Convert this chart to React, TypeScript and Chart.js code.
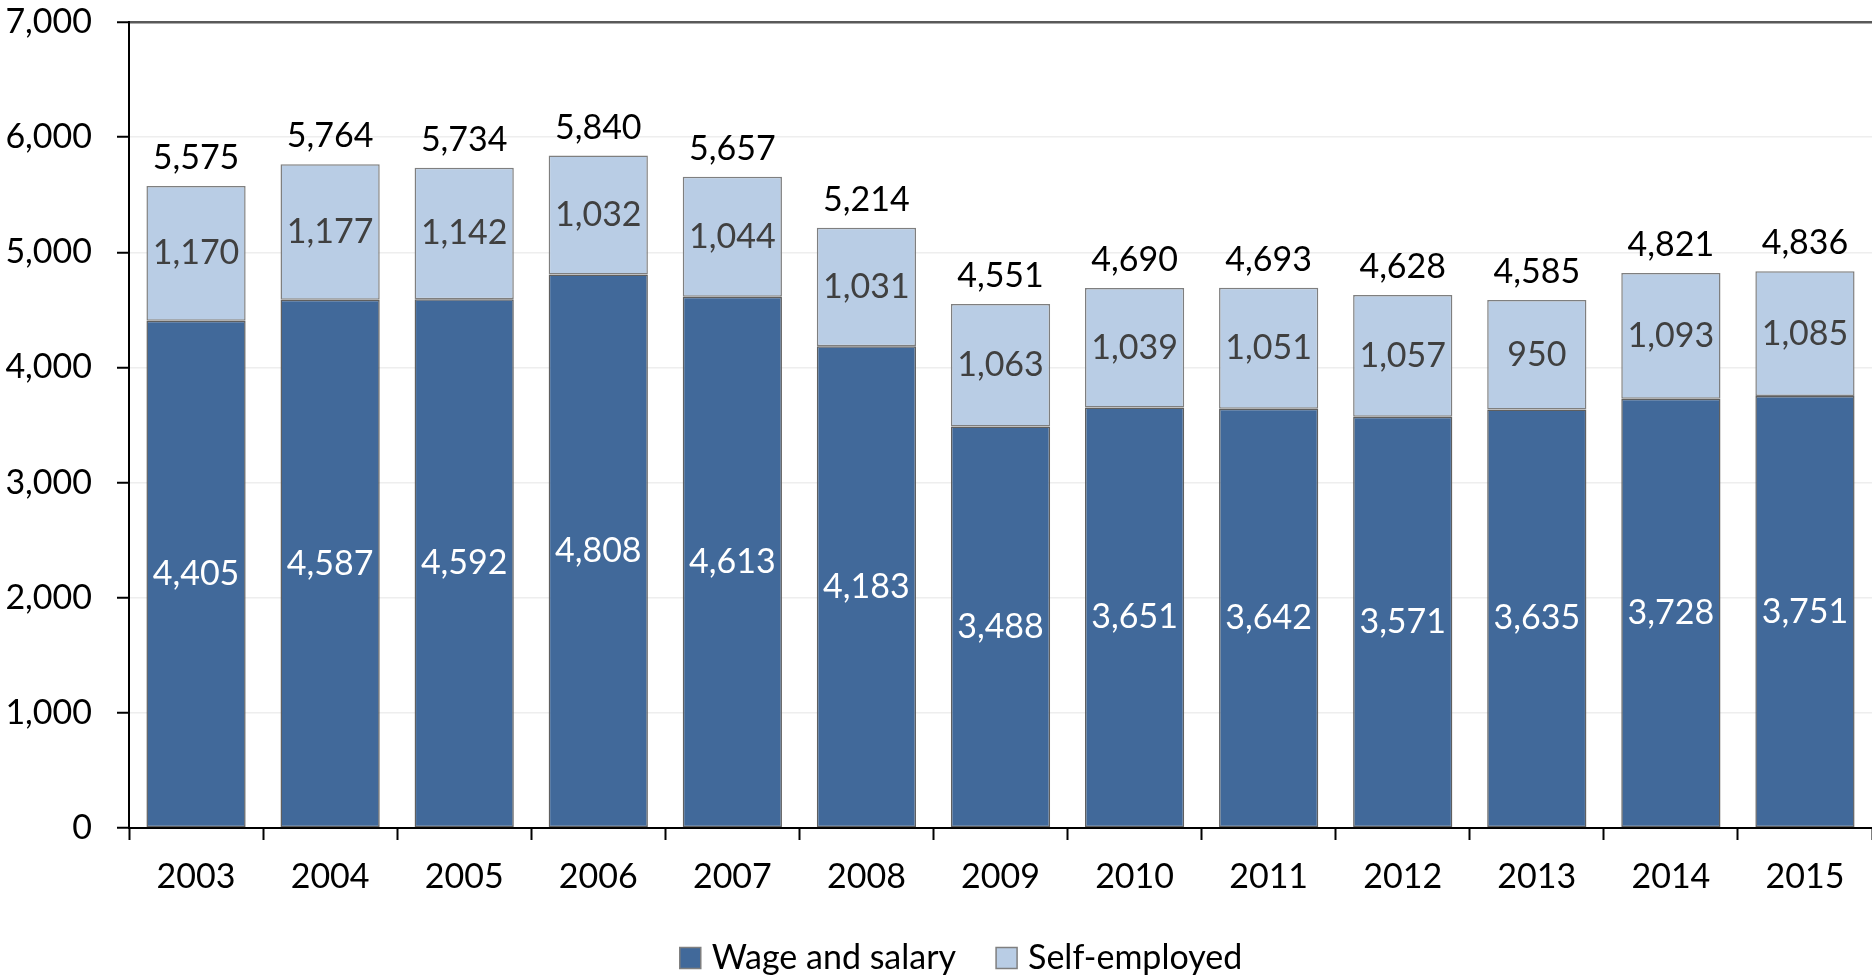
import React, { useEffect, useRef } from 'react';
import { Chart, registerables } from 'chart.js';

Chart.register(...registerables);

const years = ['2003', '2004', '2005', '2006', '2007', '2008', '2009', '2010', '2011', '2012', '2013', '2014', '2015'];
const wageAndSalary = [4405, 4587, 4592, 4808, 4613, 4183, 3488, 3651, 3642, 3571, 3635, 3728, 3751];
const selfEmployed = [1170, 1177, 1142, 1032, 1044, 1031, 1063, 1039, 1051, 1057, 950, 1093, 1085];
const totals = [5575, 5764, 5734, 5840, 5657, 5214, 4551, 4690, 4693, 4628, 4585, 4821, 4836];
const seriesNames = ['Wage and salary', 'Self-employed'];
const yMin = 0;
const yMax = 7000;
const yStep = 1000;

const FONT = 'Lato, "Open Sans", sans-serif';
const FONT_SIZE = 34;
const DARK = '#41699A';
const LIGHT = '#B9CDE5';

const fmt = (v: number) => v.toLocaleString('en-US');

export default function App() {
  const ref = useRef<HTMLCanvasElement>(null);

  useEffect(() => {
    document.body.style.margin = '0';
    const canvas = ref.current;
    if (!canvas) return;

    const labelsPlugin = {
      id: 'stackLabels',
      afterDatasetsDraw(chart: any) {
        const { ctx } = chart;
        ctx.save();
        ctx.font = `${FONT_SIZE}px ${FONT}`;
        ctx.textAlign = 'center';
        ctx.textBaseline = 'middle';
        const m0 = chart.getDatasetMeta(0);
        const m1 = chart.getDatasetMeta(1);
        m0.data.forEach((bar: any, i: number) => {
          const p = bar.getProps(['x', 'y', 'base'], true);
          ctx.fillStyle = '#ffffff';
          ctx.fillText(fmt(wageAndSalary[i]), p.x, (p.y + p.base) / 2);
        });
        m1.data.forEach((bar: any, i: number) => {
          const p = bar.getProps(['x', 'y', 'base'], true);
          ctx.fillStyle = '#404040';
          ctx.fillText(fmt(selfEmployed[i]), p.x, (p.y + p.base) / 2);
          ctx.fillStyle = '#000000';
          ctx.fillText(fmt(totals[i]), p.x, p.y - 28);
        });
        ctx.restore();
      },
    };

    const legendPlugin = {
      id: 'bottomLegend',
      afterDraw(chart: any) {
        const { ctx } = chart;
        ctx.save();
        ctx.font = `${FONT_SIZE}px ${FONT}`;
        ctx.textBaseline = 'middle';
        ctx.textAlign = 'left';
        const box = 21;
        const gap = 11;
        const spacing = 40;
        const items = chart.data.datasets.map((ds: any) => ({
          label: ds.label as string,
          fill: ds.backgroundColor as string,
        }));
        const widths = items.map((it: any) => box + gap + ctx.measureText(it.label).width);
        const total = widths.reduce((a: number, b: number) => a + b, 0) + spacing * (items.length - 1);
        let x = chart.width / 2 + 25 - total / 2;
        const y = chart.height - 19;
        items.forEach((it: any, i: number) => {
          ctx.fillStyle = it.fill;
          ctx.fillRect(x, y - box / 2, box, box);
          ctx.strokeStyle = '#7f7f7f';
          ctx.lineWidth = 1.5;
          ctx.strokeRect(x, y - box / 2, box, box);
          ctx.fillStyle = '#000000';
          ctx.fillText(it.label, x + box + gap, y);
          x += widths[i] + spacing;
        });
        ctx.restore();
      },
    };

    const chart = new Chart(canvas, {
      type: 'bar',
      data: {
        labels: years,
        datasets: [
          {
            label: seriesNames[0],
            data: wageAndSalary,
            backgroundColor: DARK,
            borderColor: '#5f5f5f',
            borderWidth: 1.5,
            borderSkipped: false,
            barPercentage: 0.74,
            categoryPercentage: 1,
          },
          {
            label: seriesNames[1],
            data: selfEmployed,
            backgroundColor: LIGHT,
            borderColor: '#7f7f7f',
            borderWidth: 1.5,
            borderSkipped: false,
            barPercentage: 0.74,
            categoryPercentage: 1,
          },
        ],
      },
      options: {
        animation: false,
        responsive: false,
        devicePixelRatio: 1,
        layout: { padding: { top: 0, right: 0, bottom: 0, left: 0 } },
        plugins: {
          legend: { display: false },
          tooltip: { enabled: false },
        },
        scales: {
          x: {
            stacked: true,
            afterFit: (scale: any) => {
              scale.height = 149;
            },
            border: { display: true, color: '#000000', width: 2 },
            grid: {
              drawOnChartArea: false,
              drawTicks: true,
              tickLength: 12,
              tickColor: '#000000',
              tickWidth: 2,
              offset: true,
            },
            ticks: {
              color: '#000000',
              font: { family: FONT, size: FONT_SIZE },
              padding: 17,
              maxRotation: 0,
            },
          },
          y: {
            stacked: true,
            min: yMin,
            max: yMax,
            afterFit: (scale: any) => {
              scale.width = 129;
              scale.paddingTop = 22;
              scale.paddingBottom = 0;
            },
            border: { display: true, color: '#000000', width: 2 },
            grid: {
              color: (c: any) => (c.tick && c.tick.value === yMax ? '#595959' : '#eeeeee'),
              lineWidth: (c: any) => (c.tick && c.tick.value === yMax ? 2.5 : 1.5),
              tickLength: 12,
              tickColor: '#000000',
              tickWidth: 2,
            },
            ticks: {
              stepSize: yStep,
              color: '#000000',
              font: { family: FONT, size: FONT_SIZE },
              padding: 25,
              callback: (v: any) => fmt(Number(v)),
            },
          },
        },
      },
      plugins: [labelsPlugin, legendPlugin],
    });

    return () => chart.destroy();
  }, []);

  return (
    <div style={{ position: 'absolute', left: 0, top: 0, width: 1872, height: 977 }}>
      <canvas ref={ref} width={1872} height={977} />
    </div>
  );
}
